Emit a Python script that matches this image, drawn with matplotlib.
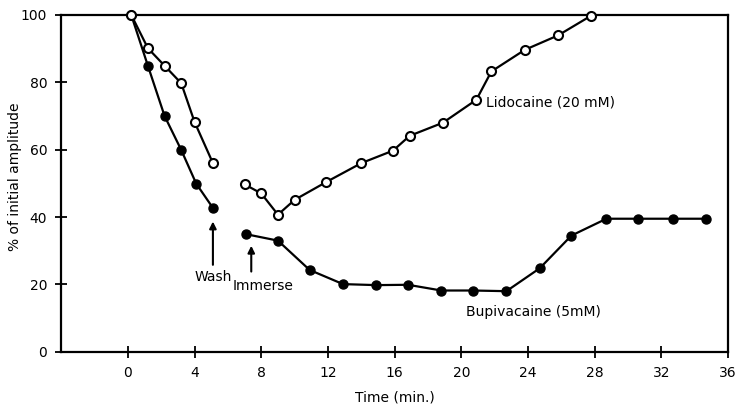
import matplotlib

matplotlib.use("Agg")
import matplotlib.pyplot as plt

# Lidocaine (20 mM), open circles -- two runs, gap at the wash
lido_t1 = [0.2, 1.2, 2.2, 3.2, 4.0, 5.1]
lido_y1 = [100, 90.1, 84.9, 79.7, 68.2, 56.0]
lido_t2 = [7.0, 8.0, 9.0, 10.0, 11.9, 14.0, 15.9, 16.9, 18.9, 20.9, 21.8, 23.8, 25.8, 27.8]
lido_y2 = [49.7, 47.0, 40.7, 45.1, 50.4, 56.0, 59.7, 64.1, 68.0, 74.8, 83.2, 89.6, 93.9, 99.8]

# Bupivacaine (5 mM), filled circles
bupi_t1 = [0.2, 1.2, 2.2, 3.2, 4.1, 5.1]
bupi_y1 = [100, 84.9, 70.0, 59.9, 49.9, 42.7]
bupi_t2 = [7.1, 9.0, 10.9, 12.9, 14.9, 16.8, 18.8, 20.7, 22.7, 24.7, 26.6, 28.7, 30.6, 32.7, 34.7]
bupi_y2 = [34.9, 33.0, 24.3, 20.1, 19.8, 19.9, 18.2, 18.2, 18.0, 24.8, 34.5, 39.5, 39.5, 39.5, 39.5]

x_ticks = [0, 4, 8, 12, 16, 20, 24, 28, 32, 36]
y_ticks = [0, 20, 40, 60, 80, 100]

plt.rcParams["font.family"] = ["DejaVu Sans"]

fig = plt.figure(figsize=(7.37, 4.12), dpi=100)
ax = fig.add_axes([0.083, 0.146, 0.905, 0.818])

line_kw = dict(color="black", lw=1.6, ms=6.5, clip_on=False, zorder=3)
for t, y in [(bupi_t1, bupi_y1), (bupi_t2, bupi_y2)]:
    ax.plot(t, y, marker="o", mfc="black", mec="black", **line_kw)
for t, y in [(lido_t1, lido_y1), (lido_t2, lido_y2)]:
    ax.plot(t, y, marker="o", mfc="white", mec="black", mew=1.5, **line_kw)

ax.set_xlim(-4, 36)
ax.set_ylim(0, 100)
ax.set_xticks(x_ticks)
ax.set_yticks(y_ticks)
ax.tick_params(direction="inout", length=8, width=1.3, labelsize=10, pad=6)
for s in ax.spines.values():
    s.set_linewidth(1.6)

ax.set_xlabel("Time (min.)", fontsize=10, labelpad=8)
ax.set_ylabel("% of initial amplitude", fontsize=10)
ax.yaxis.set_label_coords(-0.058, 0.52)

arrow = dict(arrowstyle="-|>", color="black", lw=1.5, mutation_scale=10)
ax.annotate("", xy=(5.1, 39.5), xytext=(5.1, 25.0), arrowprops=arrow)
ax.text(5.1, 22.3, "Wash", ha="center", va="center", fontsize=10)
ax.annotate("", xy=(7.4, 32.3), xytext=(7.4, 23.0), arrowprops=arrow)
ax.text(8.1, 19.6, "Immerse", ha="center", va="center", fontsize=10)

ax.text(21.5, 74.0, "Lidocaine (20 mM)", ha="left", va="center", fontsize=10)
ax.text(20.3, 11.8, "Bupivacaine (5mM)", ha="left", va="center", fontsize=10)

fig.savefig("out.png", dpi=100)
